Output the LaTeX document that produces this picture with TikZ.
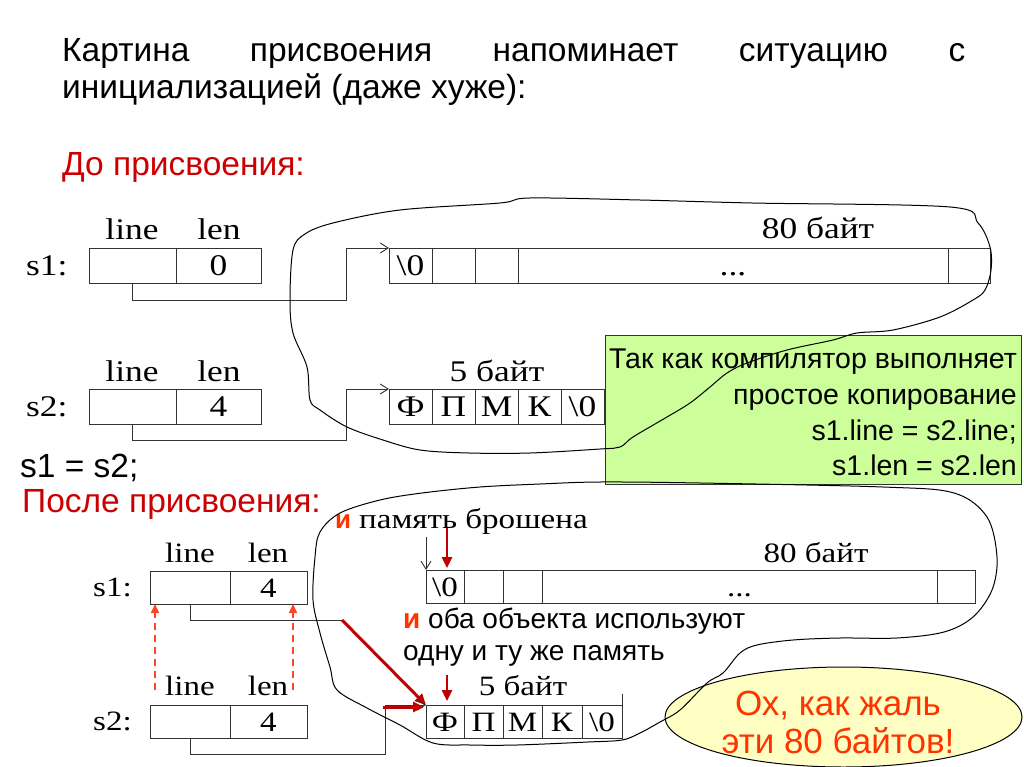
\documentclass[tikz,border=0pt]{standalone}
\usepackage{fontspec}
\setmainfont{Liberation Sans}
\newfontfamily\srf[FakeStretch=1.18]{Liberation Serif}
\usetikzlibrary{arrows.meta,shapes.geometric}
\definecolor{titlered}{HTML}{CC0000}
\definecolor{hotred}{HTML}{FF3300}
\definecolor{arrowred}{HTML}{C00000}
\definecolor{dashred}{HTML}{FF4422}
\definecolor{notegreen}{HTML}{CCFF99}
\definecolor{paleyellow}{HTML}{FFFFC4}
\definecolor{inkgray}{HTML}{333333}
\begin{document}
\begin{tikzpicture}[x=1pt,y=-1pt,
  cellA/.style={draw=inkgray, line width=0.9pt, inner sep=0pt, outer sep=0pt, anchor=north west,
    minimum height=35pt, text height=20pt, text depth=0pt, font=\srf\fontsize{30}{30}\selectfont},
  cellB/.style={cellA, minimum height=33pt, text height=19pt, font=\srf\fontsize{28}{28}\selectfont},
  serA/.style={inner sep=0pt, anchor=base, font=\srf\fontsize{30}{30}\selectfont},
  serB/.style={inner sep=0pt, anchor=base, font=\srf\fontsize{28}{28}\selectfont},
  big/.style={inner sep=0pt, anchor=base west, font=\fontsize{33.5}{36}\selectfont},
  mid/.style={inner sep=0pt, anchor=base west, font=\fontsize{28}{28}\selectfont},
  notetext/.style={inner sep=0pt, anchor=base east, font=\fontsize{28.5}{28}\selectfont},
  pityt/.style={inner sep=0pt, anchor=base, text=hotred, font=\fontsize{35}{35}\selectfont},
  ptr/.style={draw=inkgray, line width=0.9pt, -{Straight Barb[length=8pt,width=10pt]}},
  wire/.style={draw=inkgray, line width=0.9pt},
  redarrow/.style={draw=arrowred, line width=3pt, -{Triangle[length=11pt,width=10pt]}},
  dasharrow/.style={draw=dashred, line width=2pt, dash pattern=on 7pt off 5pt, -{Triangle[length=9pt,width=8pt]}},
  freehand/.style={draw=black, line width=1pt}
]
\useasboundingbox (0,0) rectangle (1024,767);
\fill[white] (0,0) rectangle (1024,767);

% ---------- headings ----------
\node[big] (title1) at (62,62) {\makebox[903pt][s]{Картина присвоения напоминает ситуацию с}};
\node[big] (title2) at (62,99) {инициализацией (даже хуже):};
\node[big, text=titlered] (before) at (62,176) {До присвоения:};
\node[big] (assign) at (20,477) {s1 = s2;};
\node[big, text=titlered] (after) at (22,512) {После присвоения:};

% ---------- before: s1 ----------
\node[serA] (l1) at (132,240) {line};
\node[serA] (n1) at (219,240) {len};
\node[serA, anchor=base west] (s1a) at (26,275) {s1:};
\node[cellA, minimum width=87pt] (s1line) at (89,248) {};
\node[cellA, minimum width=85pt] (s1len) at (176,248) {0};
\node[cellA, minimum width=43pt] (ta1) at (389,248) {\textbackslash0};
\node[cellA, minimum width=43pt] (ta2) at (432,248) {};
\node[cellA, minimum width=43pt] (ta3) at (475,248) {};
\node[cellA, minimum width=430pt] (ta4) at (518,248) {...};
\node[cellA, minimum width=42pt] (ta5) at (948,248) {};
\node[serA] (t80) at (818,239) {80 байт};
\coordinate (k1) at (346,300);
\draw[ptr] (s1line.south) |- (k1) |- (ta1.north west);

% ---------- before: s2 ----------
\node[serA] (l2) at (132,381) {line};
\node[serA] (n2) at (219,381) {len};
\node[serA, anchor=base west] (s2a) at (26,416) {s2:};
\node[cellA, minimum width=87pt] (s2line) at (89,389) {};
\node[cellA, minimum width=85pt] (s2len) at (176,389) {4};
\node[cellA, minimum width=43pt] (fa1) at (389,389) {Ф};
\node[cellA, minimum width=43pt] (fa2) at (432,389) {П};
\node[cellA, minimum width=43pt] (fa3) at (475,389) {М};
\node[cellA, minimum width=43pt] (fa4) at (518,389) {К};
\node[cellA, minimum width=43pt] (fa5) at (561,389) {\textbackslash0};
\node[serA] (t5) at (497,381) {5 байт};
\coordinate (k2) at (346,440);
\draw[ptr] (s2line.south) |- (k2) |- (fa1.north west);

% ---------- note ----------
\node[draw=inkgray, line width=0.9pt, fill=notegreen, minimum width=416pt, minimum height=149pt,
  anchor=north west, inner sep=0pt] (note) at (605,335) {};
\node[notetext] (nt1) at (1017,368) {Так как компилятор выполняет};
\node[notetext] (nt2) at (1017,404) {простое копирование};
\node[notetext] (nt3) at (1017,440) {s1.line = s2.line;};
\node[notetext] (nt4) at (1017,475) {s1.len = s2.len};

% ---------- after: s1 ----------
\node[inner sep=0pt, anchor=base west] (lost) at (335,528)
  {\textcolor{hotred}{\fontsize{26}{26}\selectfont\bfseries и}\hspace{8pt}{\srf\fontsize{28}{28}\selectfont память брошена}};
\node[serB] (l3) at (190,562) {line};
\node[serB] (n3) at (268,562) {len};
\node[serB, anchor=base west] (s1b) at (93,596) {s1:};
\node[cellB, minimum width=80pt] (b1line) at (150,571) {};
\node[cellB, minimum width=77pt] (b1len) at (230,571) {4};
\node[cellB, minimum width=38pt] (ba1) at (426,570) {\textbackslash0};
\node[cellB, minimum width=39pt] (ba2) at (464,570) {};
\node[cellB, minimum width=39pt] (ba3) at (503,570) {};
\node[cellB, minimum width=395pt] (ba4) at (542,570) {...};
\node[cellB, minimum width=38pt] (ba5) at (937,570) {};
\node[serB] (b80) at (816,562) {80 байт};

\node[mid] (share1) at (403,628) {\textcolor{hotred}{\bfseries и} оба объекта используют};
\node[mid] (share2) at (403,660) {одну и ту же память};

% ---------- after: s2 ----------
\node[serB] (l4) at (190,695) {line};
\node[serB] (n4) at (268,695) {len};
\node[serB, anchor=base west] (s2b) at (93,730) {s2:};
\node[cellB, minimum width=80pt] (b2line) at (150,705) {};
\node[cellB, minimum width=77pt] (b2len) at (230,705) {4};
\node[cellB, minimum width=38pt] (bf1) at (426,705) {Ф};
\node[cellB, minimum width=39pt] (bf2) at (464,705) {П};
\node[cellB, minimum width=39pt] (bf3) at (503,705) {М};
\node[cellB, minimum width=40pt] (bf4) at (542,705) {К};
\node[cellB, minimum width=40pt] (bf5) at (582,705) {\textbackslash0};
\node[serB] (b5) at (523,695) {5 байт};
\coordinate (tail) at (622,694);
\draw[wire] (bf5.north east) -- (tail);

% connectors after
\coordinate (c1) at (190,620);
\coordinate (c2) at (342,620);
\draw[wire] (b1line.south) -- (c1) -- (c2);
\draw[redarrow] (c2) -- (bf1.north west);
\coordinate (c3) at (385,754);
\draw[ptr] (b2line.south) |- (c3) |- (bf1.north west);
\coordinate (c4) at (383,707);
\coordinate (c5) at (424,707);
\draw[redarrow] (c4) -- (c5);
\coordinate (c6) at (426,537);
\draw[ptr] (c6) -- (ba1.north west);
\coordinate (c7) at (447,528);
\coordinate (c8) at (447,568);
\draw[redarrow, line width=2.5pt] (c7) -- (c8);
\coordinate (c9) at (447,675);
\coordinate (c10) at (447,701);
\draw[redarrow, line width=2.5pt] (c9) -- (c10);
\coordinate (d1) at (155,690);
\coordinate (d2) at (155,604);
\draw[dasharrow] (d1) -- (d2);
\coordinate (d3) at (293,690);
\coordinate (d4) at (293,604);
\draw[dasharrow] (d3) -- (d4);

% ---------- ellipse ----------
\node[ellipse, draw=black, line width=1pt, fill=paleyellow, minimum width=357pt, minimum height=100pt,
  inner sep=0pt] (pity) at (843.5,717) {};
\node[pityt] (pity1) at (838,715) {Ох, как жаль};
\node[pityt] (pity2) at (838,753) {эти 80 байтов!};

% ---------- freehand loops ----------
\draw[freehand] plot[smooth cycle, tension=0.55] coordinates {
 (290,300) (293,250) (305,234) (333,223) (400,210) (500,203) (530,198) (640,200) (752,203)
 (950,207) (978,223) (990,247) (991,270) (985,290) (973,300) (940,317) (893,330) (857,333)
 (833,340) (787,350) (747,363) (727,373) (710,387) (690,403) (667,417) (633,437) (620,447)
 (600,449) (530,453) (469,453) (420,450) (383,440) (347,427) (320,410) (310,400) (307,367)
 (293,333)};
\draw[freehand] plot[smooth cycle, tension=0.55] coordinates {
 (320,532) (340,513) (380,500) (422,493) (480,487) (540,484) (600,482) (700,483) (883,487)
 (954,493) (987,517) (997,557) (992,590) (973,617) (944,632) (897,638) (840,638) (793,640)
 (757,645) (740,653) (723,673) (707,683) (680,710) (660,722) (640,733) (622,740) (588,742)
 (517,745) (470,745) (433,743) (400,725) (367,708) (337,690) (330,667) (320,633) (313,600)
 (315,557)};
\end{tikzpicture}
\end{document}
